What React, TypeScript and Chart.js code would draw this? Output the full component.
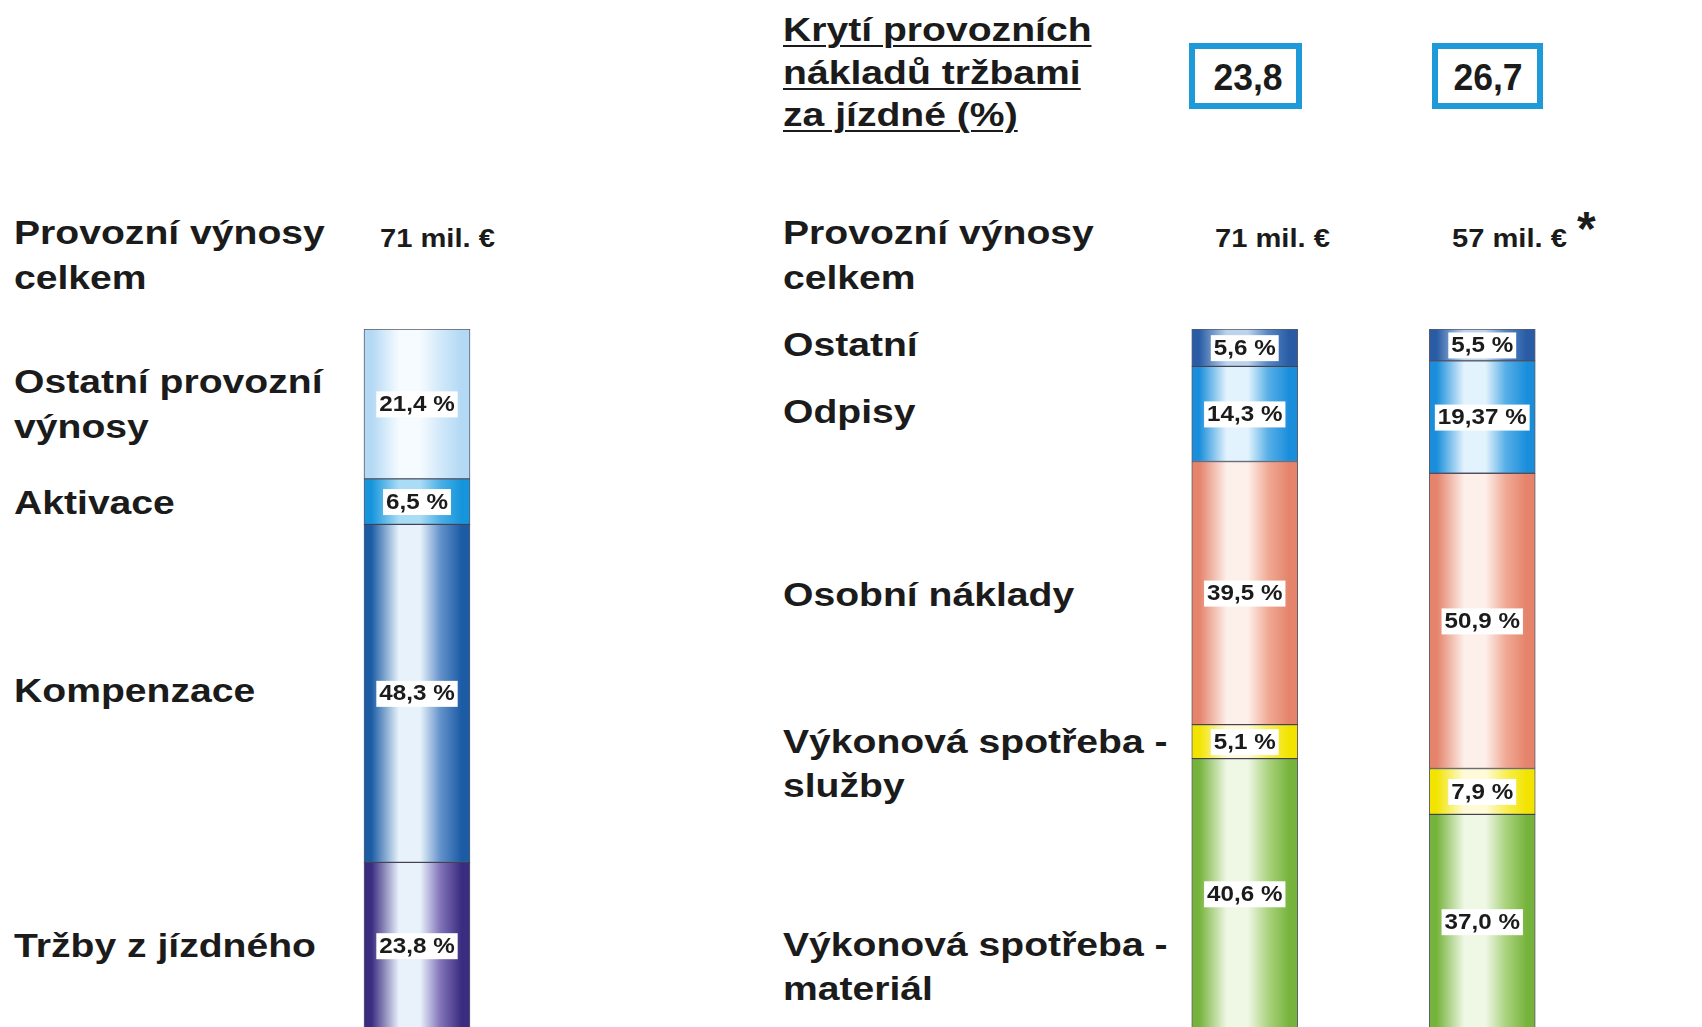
import React, { useEffect, useRef } from "react";
import { Chart, registerables } from "chart.js";

Chart.register(...registerables);

// ---------- data ----------
const revenueCategories = ["Tržby z jízdného", "Kompenzace", "Aktivace", "Ostatní provozní výnosy"];
const revenueShares = [23.8, 48.3, 6.5, 21.4];

const costBars = ["A", "B"];
const costCategories = ["Výkonová spotřeba - materiál", "Výkonová spotřeba - služby", "Osobní náklady", "Odpisy", "Ostatní"];
const costSharesA = [40.6, 5.1, 39.5, 14.3, 5.6];
const costSharesB = [37.0, 7.9, 50.9, 19.37, 5.5];

const coverageValues = ["23,8", "26,7"];
const totalLeft = "71 mil. €";
const totalsRight = ["71 mil. €", "57 mil. €"];

// ---------- styles ----------
const FONT = '"Liberation Sans", Arial, Helvetica, sans-serif';
const TEXT = "#1b1b1b";
const BAR = 106;
const LABEL_SX = 1.1;

type Shade = { edge: string; mid: string; light: string };
const revenueShades: Shade[] = [
  { edge: "#3a2c80", mid: "#8273b9", light: "#e9f1fb" },
  { edge: "#1c5ca5", mid: "#6492ca", light: "#e7f2fb" },
  { edge: "#1695dc", mid: "#4cb0e6", light: "#a9dcf5" },
  { edge: "#b3d9f4", mid: "#d2e9fa", light: "#f5fbff" },
];
const costShades: Shade[] = [
  { edge: "#76b33c", mid: "#abd37f", light: "#eff7e5" },
  { edge: "#f2e400", mid: "#f8ef55", light: "#fffbd9" },
  { edge: "#e5836b", mid: "#f0aa96", light: "#fdefe9" },
  { edge: "#1a8edb", mid: "#58afe7", light: "#e3f3fd" },
  { edge: "#295ca5", mid: "#5686c3", light: "#bcd3ec" },
];

function fmt(v: number) {
  const s = Number.isInteger(v) ? v.toFixed(1) : String(v);
  return s.replace(".", ",") + " %";
}

function gradientFill(shade: Shade) {
  return (c: any) => {
    const chart = c.chart;
    const xs = chart.scales && chart.scales.x;
    if (!xs || !chart.chartArea || c.dataIndex === undefined) return shade.edge;
    const cx = xs.getPixelForValue(c.dataIndex);
    const g = chart.ctx.createLinearGradient(cx - BAR / 2, 0, cx + BAR / 2, 0);
    g.addColorStop(0, shade.edge);
    g.addColorStop(0.07, shade.edge);
    g.addColorStop(0.33, shade.light);
    g.addColorStop(0.53, shade.light);
    g.addColorStop(0.72, shade.mid);
    g.addColorStop(0.92, shade.edge);
    g.addColorStop(1, shade.edge);
    return g;
  };
}

function labelsPlugin(raw: number[][]) {
  return {
    id: "segmentLabels",
    afterDatasetsDraw(chart: any) {
      const { ctx } = chart;
      const x = chart.scales.x;
      const y = chart.scales.y;
      ctx.save();
      ctx.font = `bold 22px ${FONT}`;
      ctx.textAlign = "center";
      ctx.textBaseline = "middle";
      chart.data.datasets.forEach((ds: any, di: number) => {
        (ds.data as number[]).forEach((v: number, i: number) => {
          let cum = 0;
          for (let k = 0; k < di; k++) cum += chart.data.datasets[k].data[i] as number;
          const cy = y.getPixelForValue(cum + v / 2);
          const cx = x.getPixelForValue(i);
          const text = fmt(raw[di][i]);
          const w = ctx.measureText(text).width * LABEL_SX;
          ctx.fillStyle = "#ffffff";
          ctx.fillRect(cx - w / 2 - 3, cy - 12.5, w + 6, 26);
          ctx.save();
          ctx.translate(cx, cy + 1);
          ctx.scale(LABEL_SX, 1);
          ctx.fillStyle = TEXT;
          ctx.fillText(text, 0, 0);
          ctx.restore();
        });
      });
      ctx.restore();
    },
  };
}

function buildConfig(barLabels: string[], seriesNames: string[], raw: number[][], shades: Shade[]) {
  // every bar is drawn as a 100 % stack
  const totals = barLabels.map((_, i) => raw.reduce((s, r) => s + r[i], 0));
  const norm = raw.map((r) => r.map((v, i) => (v / totals[i]) * 100));
  return {
    type: "bar" as const,
    data: {
      labels: barLabels,
      datasets: seriesNames.map((name, di) => ({
        label: name,
        data: norm[di],
        backgroundColor: gradientFill(shades[di]),
        borderColor: "rgba(35,35,55,0.75)",
        borderWidth: 1,
        borderSkipped: false,
        barThickness: BAR,
      })),
    },
    options: {
      responsive: false,
      animation: false as const,
      events: [],
      layout: { padding: 0 },
      plugins: { legend: { display: false }, tooltip: { enabled: false }, title: { display: false } },
      scales: {
        x: { stacked: true, display: false, offset: true },
        y: { stacked: true, display: false, min: 0, max: 100 },
      },
    },
    plugins: [labelsPlugin(raw)],
  };
}

function BarCanvas(props: {
  left: number; top: number; width: number; height: number;
  barLabels: string[]; seriesNames: string[]; raw: number[][]; shades: Shade[];
}) {
  const ref = useRef<HTMLCanvasElement | null>(null);
  useEffect(() => {
    if (!ref.current) return;
    const chart = new Chart(ref.current, buildConfig(props.barLabels, props.seriesNames, props.raw, props.shades) as any);
    return () => chart.destroy();
  }, []);
  return (
    <canvas
      ref={ref}
      width={props.width}
      height={props.height}
      style={{ position: "absolute", left: props.left, top: props.top, width: props.width, height: props.height }}
    />
  );
}

function Txt(props: {
  left: number; top: number; lines: string[]; size?: number; lh?: number; sx?: number; underline?: boolean;
}) {
  const size = props.size ?? 33;
  const lh = props.lh ?? 44;
  const sx = props.sx ?? 1.185;
  return (
    <div
      style={{
        position: "absolute",
        left: props.left,
        top: props.top,
        font: `bold ${size}px ${FONT}`,
        lineHeight: `${lh}px`,
        color: TEXT,
        whiteSpace: "pre",
        transform: `scaleX(${sx})`,
        transformOrigin: "0 0",
        textDecoration: props.underline ? "underline" : "none",
        textDecorationThickness: props.underline ? "2px" : undefined,
        textUnderlineOffset: props.underline ? "4px" : undefined,
      }}
    >
      {props.lines.map((l, i) => (
        <div key={i}>{l}</div>
      ))}
    </div>
  );
}

function ValueBox(props: { left: number; width: number; text: string; shift?: number }) {
  return (
    <div
      style={{
        position: "absolute",
        left: props.left,
        top: 43,
        width: props.width,
        height: 66,
        boxSizing: "border-box",
        border: "6px solid #1e9ad8",
        background: "#fff",
        font: `bold 37px ${FONT}`,
        lineHeight: "54px",
        paddingTop: 2,
        paddingLeft: props.shift ?? 0,
        textAlign: "center",
        color: TEXT,
      }}
    >
      <span style={{ display: "inline-block", transform: "scaleX(0.96)" }}>{props.text}</span>
    </div>
  );
}

export default function App() {
  const revenueRaw = revenueShares.map((v) => [v]);
  const costRaw = costSharesA.map((v, i) => [v, costSharesB[i]]);
  return (
    <div
      style={{
        position: "fixed",
        left: 0,
        top: 0,
        width: 1702,
        height: 1027,
        overflow: "hidden",
        background: "#ffffff",
      }}
    >
      {/* left panel */}
      <Txt left={14} top={210} lh={45} lines={["Provozní výnosy", "celkem"]} />
      <Txt left={380} top={223} size={26} lh={30} sx={1.12} lines={[totalLeft]} />
      <Txt left={14} top={359} lh={45} lines={["Ostatní provozní", "výnosy"]} />
      <Txt left={14} top={481} lines={[revenueCategories[2]]} />
      <Txt left={14} top={669} lines={[revenueCategories[1]]} />
      <Txt left={14} top={924} lines={[revenueCategories[0]]} />
      <BarCanvas
        left={300}
        top={329}
        width={234}
        height={700}
        barLabels={["71"]}
        seriesNames={revenueCategories}
        raw={revenueRaw}
        shades={revenueShades}
      />

      {/* right panel */}
      <Txt left={783} top={9} lh={42.5} underline lines={["Krytí provozních", "nákladů tržbami", "za jízdné (%)"]} />
      <ValueBox left={1189} width={113} text={coverageValues[0]} shift={6} />
      <ValueBox left={1432} width={111} text={coverageValues[1]} shift={2} />
      <Txt left={783} top={210} lh={45} lines={["Provozní výnosy", "celkem"]} />
      <Txt left={1215} top={223} size={26} lh={30} sx={1.12} lines={[totalsRight[0]]} />
      <Txt left={1452} top={223} size={26} lh={30} sx={1.12} lines={[totalsRight[1]]} />
      <div
        style={{
          position: "absolute",
          left: 1577,
          top: 202,
          font: `bold 48px ${FONT}`,
          lineHeight: "54px",
          color: TEXT,
        }}
      >
        *
      </div>
      <Txt left={783} top={323} lines={[costCategories[4]]} />
      <Txt left={783} top={390} lines={[costCategories[3]]} />
      <Txt left={783} top={573} lines={[costCategories[2]]} />
      <Txt left={783} top={720} lines={["Výkonová spotřeba -", "služby"]} />
      <Txt left={783} top={923} lines={["Výkonová spotřeba -", "materiál"]} />
      <BarCanvas
        left={1126}
        top={329}
        width={475}
        height={700}
        barLabels={costBars}
        seriesNames={costCategories}
        raw={costRaw}
        shades={costShades}
      />
    </div>
  );
}
